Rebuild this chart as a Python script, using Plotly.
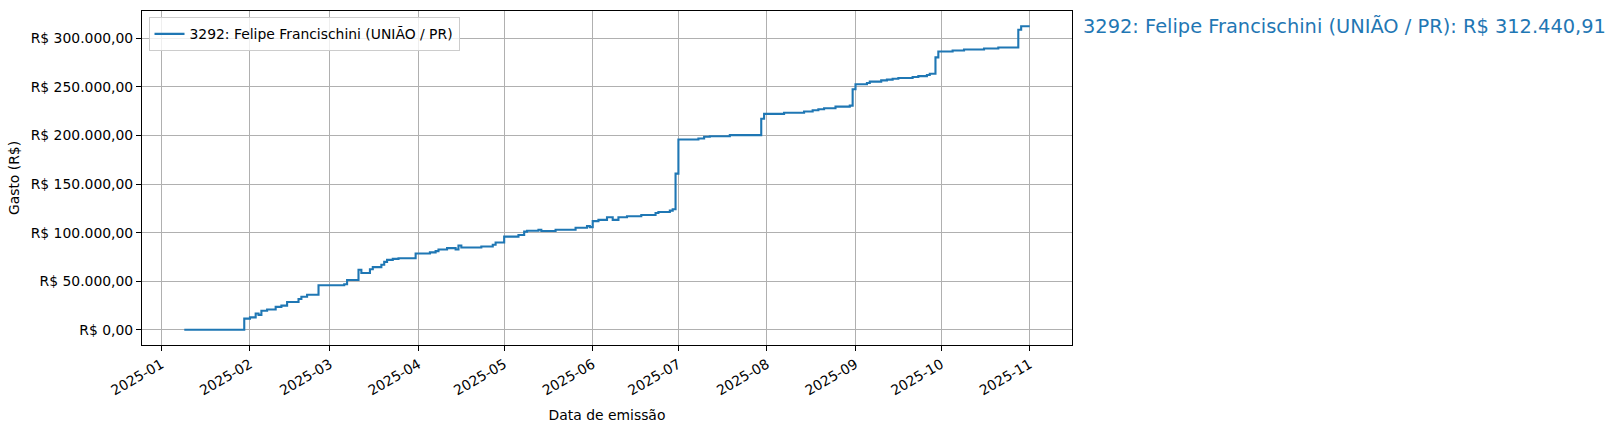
import pandas as pd
import plotly.graph_objects as go

# Cumulative spending (steps-post)
datas = [
    "2025-01-09", "2025-01-30", "2025-02-01", "2025-02-03", "2025-02-04",
    "2025-02-05", "2025-02-07", "2025-02-10", "2025-02-12", "2025-02-14",
    "2025-02-18", "2025-02-19", "2025-02-21", "2025-02-25", "2025-03-06",
    "2025-03-07", "2025-03-11", "2025-03-12", "2025-03-15", "2025-03-16",
    "2025-03-19", "2025-03-20", "2025-03-21", "2025-03-23", "2025-03-25",
    "2025-03-31", "2025-04-05", "2025-04-07", "2025-04-08", "2025-04-11",
    "2025-04-14", "2025-04-15", "2025-04-16", "2025-04-23", "2025-04-27",
    "2025-04-28", "2025-05-01", "2025-05-06", "2025-05-08", "2025-05-09",
    "2025-05-13", "2025-05-14", "2025-05-19", "2025-05-26", "2025-05-30",
    "2025-05-31", "2025-06-01", "2025-06-03", "2025-06-06", "2025-06-08",
    "2025-06-10", "2025-06-13", "2025-06-18", "2025-06-23", "2025-06-24",
    "2025-06-28", "2025-06-29", "2025-06-30", "2025-07-01", "2025-07-08",
    "2025-07-10", "2025-07-12", "2025-07-19", "2025-07-30", "2025-07-31",
    "2025-08-07", "2025-08-14", "2025-08-17", "2025-08-19", "2025-08-21",
    "2025-08-25", "2025-08-30", "2025-08-31", "2025-09-01", "2025-09-05",
    "2025-09-06", "2025-09-10", "2025-09-12", "2025-09-14", "2025-09-16",
    "2025-09-21", "2025-09-23", "2025-09-26", "2025-09-27", "2025-09-29",
    "2025-09-30", "2025-10-05", "2025-10-09", "2025-10-16", "2025-10-21",
    "2025-10-28", "2025-10-29", "2025-11-01",
]
gasto_acumulado = [
    0.0, 11500.0, 12800.0, 16800.0, 15400.0,
    19600.0, 20900.0, 23600.0, 24900.0, 28700.0,
    31700.0, 34100.0, 36100.0, 45900.0, 46900.0,
    51300.0, 61800.0, 58400.0, 62400.0, 64500.0,
    66900.0, 69900.0, 72000.0, 73000.0, 73600.0,
    78600.0, 79700.0, 81000.0, 82700.0, 84100.0,
    82700.0, 86800.0, 84700.0, 85700.0, 87500.0,
    89800.0, 95900.0, 97600.0, 101000.0, 102000.0,
    103000.0, 101700.0, 103000.0, 105000.0, 106700.0,
    105700.0, 111800.0, 113100.0, 115800.0, 113100.0,
    115800.0, 116800.0, 118200.0, 120200.0, 121200.0,
    122600.0, 124000.0, 160700.0, 195900.0, 196900.0,
    198600.0, 199200.0, 200300.0, 217200.0, 222200.0,
    223300.0, 224600.0, 226000.0, 227000.0, 228000.0,
    229700.0, 230700.0, 247600.0, 252700.0, 254000.0,
    255400.0, 256700.0, 257400.0, 258400.0, 259100.0,
    260100.0, 261100.0, 262200.0, 263500.0, 280300.0,
    286400.0, 287400.0, 288400.0, 289500.0, 290500.0,
    308700.0, 312440.91, 312440.91,
]

nome = "3292: Felipe Francischini (UNIÃO / PR)"
azul = "#1f77b4"
fonte = "DejaVu Sans"


def brl(v):
    s = f"{v:,.2f}"
    return "R$ " + s.replace(",", "X").replace(".", ",").replace("X", ".")


x = pd.to_datetime(datas)
y = gasto_acumulado

# matplotlib-like 5% margins
x0, x1 = x.min(), x.max()
dx = (x1 - x0) * 0.05
y0, y1 = min(y), max(y)
dy = (y1 - y0) * 0.05

fig = go.Figure()
fig.add_trace(go.Scatter(
    x=x, y=y, mode="lines", name=nome,
    line=dict(color=azul, width=2.1, shape="hv"),
    showlegend=True,
))

fig.add_annotation(
    xref="paper", yref="y", x=1.01, y=y[-1],
    text=f"{nome}: {brl(y[-1])}",
    showarrow=False, xanchor="left", yanchor="middle",
    font=dict(family=fonte, size=19.4, color=azul),
)

eixo = dict(
    showline=True, linecolor="black", linewidth=1.1, mirror=True,
    ticks="outside", ticklen=5, tickwidth=1.1, tickcolor="black",
    showgrid=True, gridcolor="#b0b0b0", gridwidth=1.1,
    zeroline=False,
    tickfont=dict(family=fonte, size=13.9, color="black"),
)

fig.update_xaxes(
    **eixo,
    range=[x0 - dx, x1 + dx],
    tick0="2025-01-01", dtick="M1", tickformat="%Y-%m", tickangle=-30,
    title=dict(text="Data de emissão", standoff=12,
               font=dict(family=fonte, size=13.9, color="black")),
)
fig.update_yaxes(
    **eixo,
    range=[y0 - dy, y1 + dy],
    dtick=50000, tickformat=",.2f", tickprefix="R$ ",
    title=dict(text="Gasto (R$)", standoff=7,
               font=dict(family=fonte, size=13.9, color="black")),
)

fig.update_layout(
    width=1614, height=430, autosize=False,
    separators=",.",
    paper_bgcolor="white", plot_bgcolor="white",
    font=dict(family=fonte, size=13.9, color="black"),
    margin=dict(l=142, r=542, t=10, b=80),
    legend=dict(
        x=0.007, y=0.981, xanchor="left", yanchor="top",
        bgcolor="rgba(255,255,255,0.8)", bordercolor="#cccccc", borderwidth=1,
        font=dict(family=fonte, size=13.9, color="black"),
    ),
)

# the page body has a default 8px margin; drop it so the figure sits at 0,0
fig.write_html(
    "out.html",
    config={"displayModeBar": False},
    post_script="document.body.style.margin='0';document.body.style.overflow='hidden';",
)
